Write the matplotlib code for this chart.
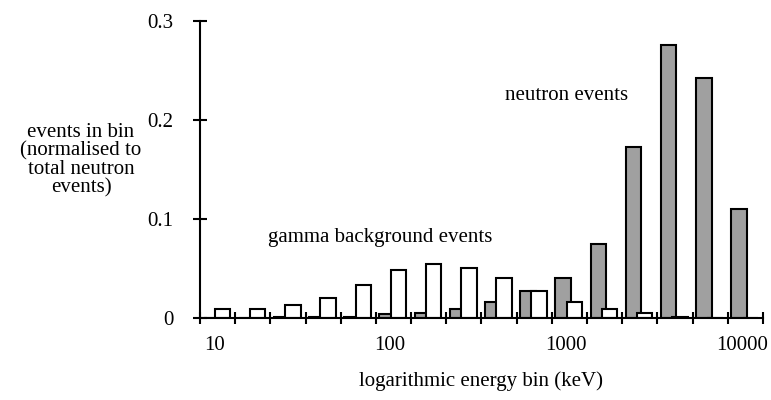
import numpy as np
import matplotlib
matplotlib.use("Agg")
import matplotlib.pyplot as plt

# 16 logarithmic energy bins, 5 per decade, starting at 10 keV
bin_log_start = 1.0
bin_log_step = 0.2
n_bins = 16

# events in bin, normalised to total neutron events
neutron = [0.0, 0.0, 0.001, 0.001, 0.001, 0.004, 0.005, 0.009,
           0.016, 0.027, 0.040, 0.075, 0.173, 0.276, 0.242, 0.110]
gamma = [0.009, 0.009, 0.013, 0.020, 0.033, 0.048, 0.055, 0.051,
         0.040, 0.027, 0.016, 0.009, 0.005, 0.001, 0.0, 0.0]

tick_labels = ["10", "100", "1000", "10000"]
yticks = [0, 0.1, 0.2, 0.3]

plt.rcParams['font.family'] = ['Liberation Serif', 'DejaVu Serif']
plt.rcParams['font.size'] = 15

fig = plt.figure(figsize=(7.71, 4.0), dpi=100)
ax = fig.add_axes([0.2594, 0.205, 0.7302, 0.7425])

edges = bin_log_start + bin_log_step * np.arange(n_bins + 1)
lo = edges[:-1]

# neutron bar on the left of each bin, gamma bar drawn on top just right of it
n_left = 10 ** (lo + bin_log_step * 0.10)
n_right = 10 ** (lo + bin_log_step * 0.54)
g_left = 10 ** (lo + bin_log_step * 0.42)
g_right = 10 ** (lo + bin_log_step * 0.86)

ax.bar(n_left, neutron, width=n_right - n_left, align='edge',
       facecolor='#a0a0a0', edgecolor='black', linewidth=1.5, zorder=2)
ax.bar(g_left, gamma, width=g_right - g_left, align='edge',
       facecolor='white', edgecolor='black', linewidth=1.5, zorder=3)

ax.set_xscale('log')
ax.set_xlim(10 ** edges[0], 10 ** edges[-1])
ax.set_ylim(0, 0.3)

for s in ['top', 'right']:
    ax.spines[s].set_visible(False)
for s in ['left', 'bottom']:
    ax.spines[s].set_linewidth(1.5)
    ax.spines[s].set_zorder(4)

ax.set_xticks(10 ** edges)
ax.set_xticklabels([])
label_pos = [10 ** (1 + k + 0.08) for k in range(len(tick_labels))]
ax.set_xticks(label_pos, tick_labels, minor=True)
ax.tick_params(axis='x', which='major', direction='inout', length=8, width=1.5)
ax.tick_params(axis='x', which='minor', length=0, pad=13)

ax.set_yticks(yticks, ["0", "0.1", "0.2", "0.3"])
ax.tick_params(axis='y', direction='inout', length=10, width=1.5, pad=14)

ax.set_xlabel("logarithmic energy bin (keV)", labelpad=12)
fig.text(0.105, 0.60, "events in bin\n(normalised to\ntotal neutron\nevents)",
         ha='center', va='center', linespacing=0.95)

ax.text(10 ** 1.386, 0.081, "gamma background events", ha='left', va='center')
ax.text(10 ** 2.733, 0.225, "neutron events", ha='left', va='center')

fig.savefig("out.png", dpi=100)
